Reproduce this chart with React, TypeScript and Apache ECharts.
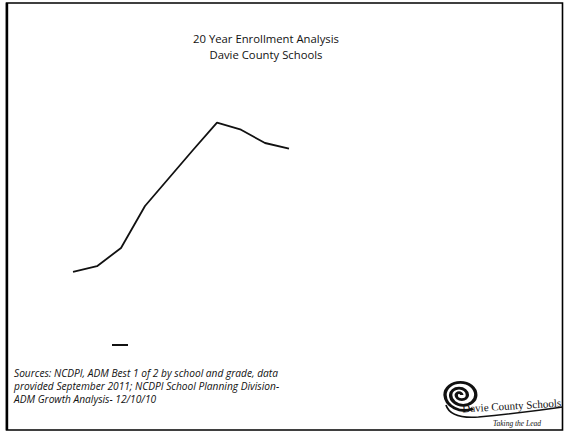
import React, { useEffect, useRef } from "react";
import * as echarts from "echarts";

const years = [
  "2001", "2002", "2003", "2004", "2005", "2006", "2007", "2008", "2009", "2010",
  "2011", "2012", "2013", "2014", "2015", "2016", "2017", "2018", "2019", "2020",
];
const enrollment: (number | null)[] = [
  5630, 5670, 5800, 6100, 6300, 6500, 6695, 6645, 6550, 6510,
  null, null, null, null, null, null, null, null, null, null,
];
const titleLines = ["20 Year Enrollment Analysis", "Davie County Schools"];
const sourceLines = [
  "Sources: NCDPI, ADM Best 1 of 2 by school and grade, data",
  "provided September 2011; NCDPI School Planning Division-",
  "ADM Growth Analysis- 12/10/10",
];

const spiralD =
  "M 2 0 A 2 2 0 0 0 -2 0 A 4 4 0 0 0 6 0 A 6 6 0 0 0 -6 0 A 9 9 0 0 0 12 0 A 11 11 0 0 0 -10 0 A 14 14 0 0 0 10 12";
const swooshD = "M 0 0 Q 4 14 30 12 Q 70 8 108 2";

export default function App() {
  const ref = useRef<HTMLDivElement>(null);
  useEffect(() => {
    if (!ref.current) return;
    document.body.style.margin = "0";
    try {
      echarts.graphic.registerShape("spiral", echarts.graphic.extendPath(spiralD, {}) as any);
      echarts.graphic.registerShape("swoosh", echarts.graphic.extendPath(swooshD, {}) as any);
    } catch (e) {}
    const chart = echarts.init(ref.current, null, { renderer: "svg" });
    chart.setOption({
      animation: false,
      backgroundColor: "#fff",
      title: {
        text: titleLines.join("\n"),
        left: 261,
        top: 25,
        textAlign: "center",
        textStyle: {
          fontFamily: "Open Sans",
          fontSize: 11.3,
          fontWeight: "normal",
          color: "#111",
          lineHeight: 16,
        },
      },
      legend: {
        left: 107,
        top: 339,
        icon: "rect",
        itemWidth: 16,
        itemHeight: 2,
        data: ["Enrollment"],
        formatter: () => " ",
        textStyle: { fontSize: 1 },
      },
      grid: { left: 73, right: 36, top: 80, height: 280 },
      xAxis: { type: "category", data: years, boundaryGap: false, show: false },
      yAxis: { type: "value", min: 5000, max: 7000, show: false },
      series: [
        {
          name: "Enrollment",
          type: "line",
          data: enrollment,
          showSymbol: false,
          symbol: "none",
          color: "#111",
          lineStyle: { color: "#111", width: 1.8 },
        },
      ],
      graphic: [
        {
          type: "rect",
          shape: { x: 6.5, y: 3, width: 556, height: 427 },
          style: { fill: "none", stroke: "#000", lineWidth: 1.6 },
          silent: true,
        },
        {
          type: "line",
          shape: { x1: 7, y1: 3, x2: 7, y2: 430 },
          style: { stroke: "#000", lineWidth: 2.4 },
          silent: true,
        },
        {
          type: "text",
          left: 14,
          top: 366,
          style: {
            text: sourceLines.join("\n"),
            fontFamily: "Open Sans",
            fontStyle: "italic",
            fontSize: 10.2,
            lineHeight: 13,
            fill: "#111",
          },
        },
        {
          type: "spiral",
          x: 459,
          y: 395,
          scaleX: 1.4,
          scaleY: 1.15,
          style: { fill: "none", stroke: "#111", lineWidth: 2.4 },
        },
        {
          type: "swoosh",
          x: 446,
          y: 405,
          scaleX: 1.08,
          style: { fill: "none", stroke: "#111", lineWidth: 1.6 },
        },
        {
          type: "text",
          x: 462,
          y: 403,
          rotation: 0.06,
          style: {
            text: "Davie County Schools",
            fontFamily: "Liberation Serif",
            fontSize: 11,
            fill: "#111",
          },
        },
        {
          type: "text",
          x: 493,
          y: 419,
          style: {
            text: "Taking the Lead",
            fontFamily: "Liberation Serif",
            fontStyle: "italic",
            fontSize: 7.5,
            fill: "#111",
          },
        },
      ],
    });
    return () => chart.dispose();
  }, []);
  return <div ref={ref} style={{ width: 565, height: 433 }} />;
}
